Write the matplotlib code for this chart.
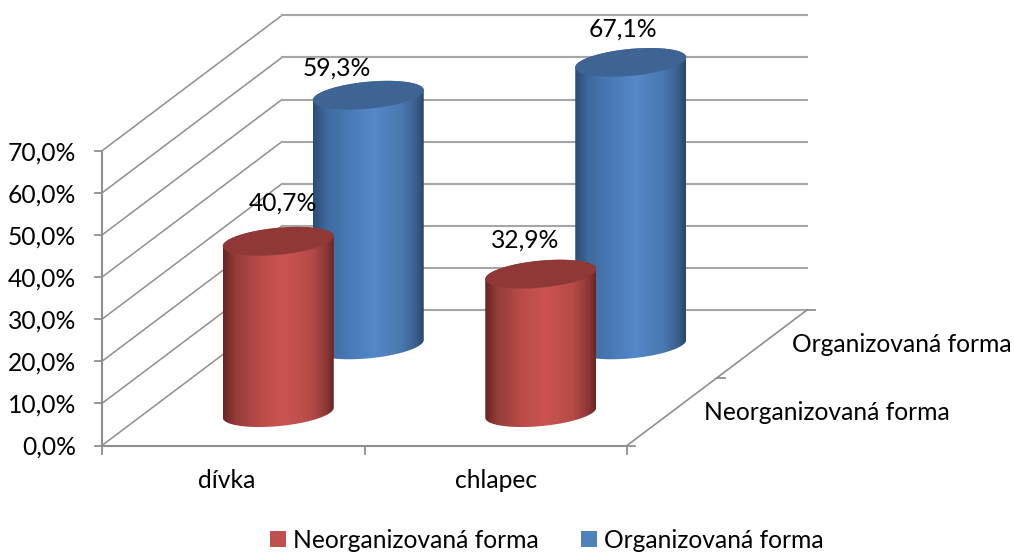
import matplotlib
matplotlib.use('Agg')
import matplotlib.pyplot as plt
import numpy as np
from matplotlib.colors import LinearSegmentedColormap
from matplotlib.patches import Patch, Polygon

categories = ['dívka', 'chlapec']
series_names = ['Neorganizovaná forma', 'Organizovaná forma']
neorganizovana = [40.7, 32.9]
organizovana = [59.3, 67.1]
y_ticks = [0, 10, 20, 30, 40, 50, 60, 70]

plt.rcParams['font.family'] = ['Lato', 'DejaVu Sans']

# box geometry, in pixels
X0, Y0 = 102, 445.5
FRONT_W = 525
DEPTH_X, DEPTH_Y = 180, -135.5
PX_PER_PCT = 4.21
GREY = '#8f8f8f'
FS = 17.7

# offsets of the value labels from the top of each cylinder
label_offsets = [[(5, -38), (-16, -34)], [(-31, -27), (-8, -33)]]


def project(cat, value, depth):
    x = X0 + FRONT_W * cat / len(categories) + DEPTH_X * depth
    y = Y0 - PX_PER_PCT * value + DEPTH_Y * depth
    return x, y


def arc(cx, cy, start, stop):
    t = np.linspace(start, stop, 80)
    return np.column_stack([cx + 55.5 * np.cos(t),
                            cy - 5 * np.cos(t) - 13.5 * np.sin(t)])


def cylinder(ax, cat, value, depth, body_cmap, top_color):
    cx, base = project(cat, 0, depth)
    base += 1
    top = base - PX_PER_PCT * value
    outline = np.vstack([arc(cx, base, np.pi, 2 * np.pi), arc(cx, top, 0, np.pi)])
    body = Polygon(outline, closed=True, fc='none', ec='none', zorder=3)
    ax.add_patch(body)
    grad = ax.imshow(np.linspace(0, 1, 256).reshape(1, -1), cmap=body_cmap,
                     extent=[cx - 55.5, cx + 55.5, base + 20, top - 20],
                     aspect='auto', zorder=3)
    grad.set_clip_path(body)
    ax.add_patch(Polygon(arc(cx, top, 0, 2 * np.pi), closed=True, fc=top_color,
                         ec='none', zorder=4))
    return cx, top


fig = plt.figure(figsize=(10.14, 5.52), dpi=100)
ax = fig.add_axes([0, 0, 1, 1])

# gridlines on the two walls
for v in y_ticks:
    x1, y1 = project(0, v, 0)
    x2, y2 = project(0, v, 1)
    x3, y3 = project(2, v, 1)
    ax.plot([x1, x2], [y1, y2], color=GREY, lw=1.1, zorder=1)
    ax.plot([x2, x3], [y2, y3], color='#a6a6a6', lw=1.5, zorder=1)
    ax.plot([x1 - 7, x1], [y1, y1], color=GREY, lw=1.3, zorder=1)
    ax.text(76, y1 + 2, f'{v:.1f}%'.replace('.', ','), ha='right', va='center',
            fontsize=FS, color='black')

# axis lines
ax.plot(*zip(project(0, 0, 0), project(0, 70, 0)), color=GREY, lw=1.5, zorder=1)
ax.plot(*zip(project(0, 0, 0), project(2, 0, 0)), color=GREY, lw=1.5, zorder=1)
ax.plot(*zip(project(2, 0, 0), project(2, 0, 1)), color=GREY, lw=1.2, zorder=1)
for c in range(3):
    x, y = project(c, 0, 0)
    ax.plot([x, x], [y, y + 8], color=GREY, lw=1.3, zorder=1)
for d in [0, 0.5, 1]:
    x, y = project(2, 0, d)
    ax.plot([x, x + 8], [y, y], color=GREY, lw=1.3, zorder=1)

red_cmap = LinearSegmentedColormap.from_list(
    'red', [(0, '#6a2523'), (0.12, '#963d3a'), (0.35, '#bd4d4a'), (0.55, '#cb5451'),
            (0.8, '#b54a47'), (0.93, '#8c3836'), (1, '#6a2523')])
blue_cmap = LinearSegmentedColormap.from_list(
    'blue', [(0, '#2c4b72'), (0.12, '#3f6a9e'), (0.35, '#4b7cb8'), (0.55, '#5687c8'),
             (0.8, '#4a78b0'), (0.93, '#3a5f8e'), (1, '#2a466b')])

# back row first, so the red cylinders sit in front
rows = [(organizovana, 0.75, blue_cmap, '#3e6493', 1),
        (neorganizovana, 0.25, red_cmap, '#8f3836', 0)]
for values, depth, cmap, top_color, row in rows:
    for i, v in enumerate(values):
        cx, top = cylinder(ax, i + 0.5, v, depth, cmap, top_color)
        dx, dy = label_offsets[row][i]
        ax.text(cx + dx, top + dy, f'{v:.1f}%'.replace('.', ','), ha='center',
                va='center', fontsize=FS, color='black', zorder=5)

ax.text(227, 481, categories[0], ha='center', va='center', fontsize=FS)
ax.text(496, 481, categories[1], ha='center', va='center', fontsize=FS)
ax.text(704, 413, series_names[0], ha='left', va='center', fontsize=FS)
ax.text(792, 344, series_names[1], ha='left', va='center', fontsize=FS)

handles = [Patch(fc='#c0504d', ec='none', label=series_names[0]),
           Patch(fc='#4f81bd', ec='none', label=series_names[1])]
ax.legend(handles=handles, ncol=2, frameon=False, fontsize=FS, loc='center',
          bbox_to_anchor=(547 / 1014, 1 - 540 / 552), handlelength=0.65,
          handleheight=0.65, handletextpad=0.3, columnspacing=1.7)

ax.set_xlim(0, 1014)
ax.set_ylim(552, 0)
ax.axis('off')
fig.savefig('out.png', dpi=100)
